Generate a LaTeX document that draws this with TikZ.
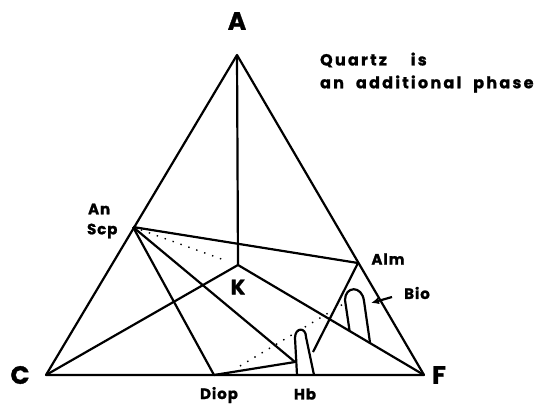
\documentclass[tikz,border=0pt]{standalone}
\usepackage{fontspec}
\setmainfont{Poppins}[BoldFeatures={FakeBold=1.2}]
\usetikzlibrary{arrows.meta,calc}

\tikzset{
  big/.style={font=\bfseries\fontsize{25}{28}\selectfont},
  mid/.style={font=\bfseries\fontsize{21}{24}\selectfont},
  lbl/.style={font=\bfseries\fontsize{15}{18}\selectfont\addfontfeature{LetterSpace=6}},
  note/.style={font=\bfseries\fontsize{16}{18}\selectfont\addfontfeature{LetterSpace=14},anchor=west},
  dots/.style={line width=1.4pt,dash pattern=on 1.4pt off 7pt},
}

\begin{document}
\begin{tikzpicture}[x=1pt,y=-1pt,line width=2.2pt,line join=round,inner sep=0pt]
  \useasboundingbox (0,0) rectangle (545,406);
  \coordinate (a)    at (237,55);
  \coordinate (c)    at (46,375);
  \coordinate (f)    at (424,375);
  \coordinate (k)    at (238,265);
  \coordinate (scp)  at (133,227);
  \coordinate (alm)  at (358,263);
  \coordinate (diop) at (214,375);
  \coordinate (hbl)  at (295,362);
  \coordinate (hbr)  at (313,352);
  \coordinate (dl)   at (240,366);
  \coordinate (dr)   at (345,303);
  \coordinate (bt)   at (392,297);
  \coordinate (bh)   at (371,303);

  \node[big] (A)  at (237,21)  {A};
  \node[big] (C)  at (20,375)  {C};
  \node[big] (F)  at (439,375) {F};
  \node[mid] (K)  at (238,287) {K};
  \node[lbl,anchor=west] (An)  at (87,209)  {An};
  \node[lbl,anchor=west] (Scp) at (86,231)  {Scp};
  \node[lbl] (Alm)  at (388,259) {Alm};
  \node[lbl] (Bio)  at (417,293) {Bio};
  \node[lbl] (Diop) at (219,395) {Diop};
  \node[lbl] (Hb)   at (305,394) {Hb};
  \node[note] (q1) at (319,60) {Quartz\hspace{24pt}is};
  \node[note] (q2) at (319,84) {an\hspace{12pt}additional\hspace{12pt}phase};

  \draw (a) -- (c) -- (f) -- cycle;
  \draw (a) -- (k);
  \draw (scp) -- (alm);
  \draw (c) -- (k) -- (f);
  \draw (scp) -- (diop);
  \draw (scp) -- (hbl);
  \draw (diop) -- (hbl);
  \draw (alm) -- (hbr);
  \draw[dots] (scp) -- ($(scp)!0.85!(k)$);
  \draw[dots] (dl) -- (dr);
  \draw[-{Latex[length=8pt,width=7pt]}] (bt) -- (bh);
  \draw (297,375) -- (295,338) .. controls (295,327) and (306,327) .. (306,337) -- (314,375);
  \draw ($(k)!0.6!(f)$) -- (345,300) .. controls (345,286) and (362,285) .. (364,301) -- ($(k)!0.71!(f)$);
\end{tikzpicture}
\end{document}
